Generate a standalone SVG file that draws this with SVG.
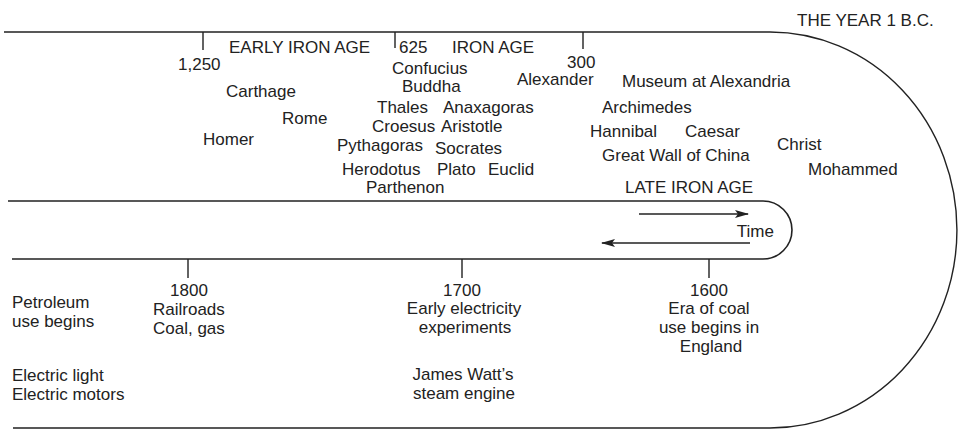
<svg xmlns="http://www.w3.org/2000/svg" width="961" height="431" viewBox="0 0 961 431">
<style>
text{font-family:"Liberation Sans",Arial,sans-serif;font-size:17px;fill:#222}
.m{text-anchor:middle}
.ln{fill:none;stroke:#222;stroke-width:1.4}
</style>
<defs>
<marker id="ah" viewBox="0 0 14 8" refX="13" refY="4" markerWidth="14" markerHeight="8" markerUnits="userSpaceOnUse" orient="auto">
<path d="M0,0 L14,4 L0,8 L3,4 Z" fill="#222"/>
</marker>
</defs>
<rect width="961" height="431" fill="#fff"/>
<g id="connectors">
<path class="ln" d="M4,32 H770 A187,198 0 0 1 770,428 H13"/>
<path class="ln" d="M8,201 H763 A29,29 0 0 1 763,259 H12" style="stroke-width:1.6"/>
<path class="ln" d="M203,32 V50 M395,32 V48 M583,32 V49"/>
<path class="ln" d="M188,259 V278 M462,259 V278 M709,259 V278"/>
<line class="ln" x1="639" y1="214" x2="748" y2="214" marker-end="url(#ah)"/>
<line class="ln" x1="750" y1="243" x2="602" y2="243" marker-end="url(#ah)"/>
</g>
<g id="top-labels">
<text x="797" y="26">THE YEAR 1 B.C.</text>
<text x="229" y="53">EARLY IRON AGE</text>
<text x="399" y="53">625</text>
<text x="452" y="53">IRON AGE</text>
<text x="178" y="70">1,250</text>
<text x="567" y="68">300</text>
</g>
<g id="bc-events">
<text x="392" y="74">Confucius</text>
<text x="402" y="92">Buddha</text>
<text x="226" y="97">Carthage</text>
<text x="377" y="113">Thales</text>
<text x="443" y="113">Anaxagoras</text>
<text x="282" y="124">Rome</text>
<text x="372" y="132">Croesus</text>
<text x="441" y="132">Aristotle</text>
<text x="203" y="145">Homer</text>
<text x="337" y="151">Pythagoras</text>
<text x="435" y="154">Socrates</text>
<text x="342" y="175">Herodotus</text>
<text x="437" y="175">Plato</text>
<text x="488" y="175">Euclid</text>
<text x="366" y="193">Parthenon</text>
<text x="517" y="85">Alexander</text>
<text x="622" y="87">Museum at Alexandria</text>
<text x="602" y="113">Archimedes</text>
<text x="590" y="137">Hannibal</text>
<text x="685" y="137">Caesar</text>
<text x="777" y="150">Christ</text>
<text x="602" y="161">Great Wall of China</text>
<text x="808" y="175">Mohammed</text>
<text x="625" y="193">LATE IRON AGE</text>
</g>
<g id="time-label">
<text x="774" y="237" style="text-anchor:end">Time</text>
</g>
<g id="modern-events">
<text class="m" x="189" y="296">1800</text>
<text x="153" y="315">Railroads<tspan x="153" dy="19">Coal, gas</tspan></text>
<text x="12" y="308">Petroleum<tspan x="12" dy="19">use begins</tspan></text>
<text x="12" y="381">Electric light<tspan x="12" dy="19">Electric motors</tspan></text>
<text class="m" x="462" y="296">1700</text>
<text class="m" x="464" y="314">Early electricity<tspan x="465" dy="19">experiments</tspan></text>
<text class="m" x="463" y="380">James Watt’s<tspan x="464" dy="19">steam engine</tspan></text>
<text class="m" x="709" y="296">1600</text>
<text class="m" x="709" y="314">Era of coal<tspan x="709" dy="19">use begins in</tspan><tspan x="711" dy="19">England</tspan></text>
</g>
</svg>
